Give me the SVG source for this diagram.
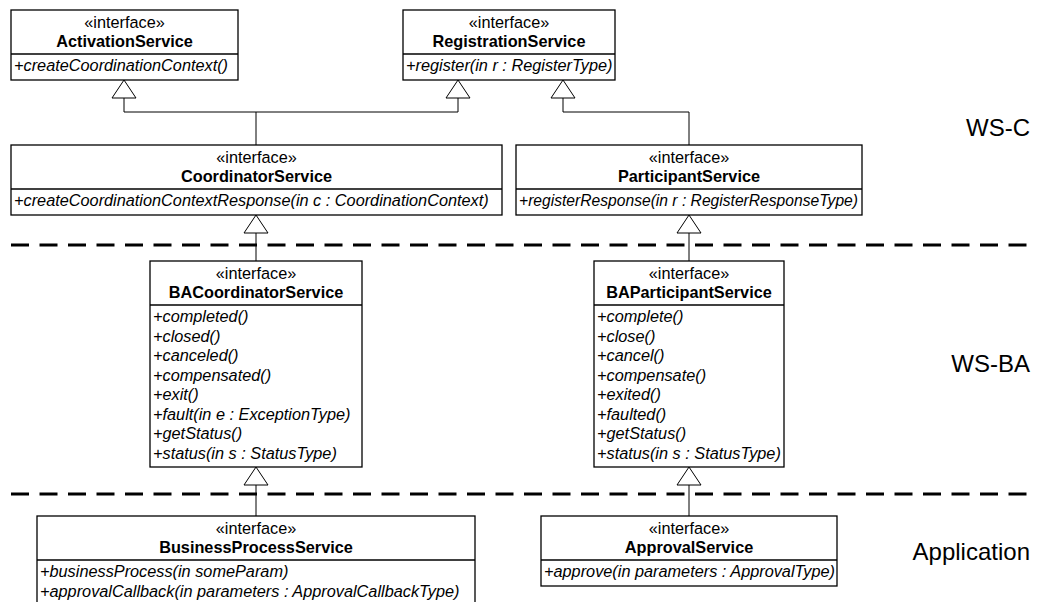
<svg xmlns="http://www.w3.org/2000/svg" width="1037" height="602" viewBox="0 0 1037 602">
  <style>
    .box { fill: #ffffff; stroke: #000000; stroke-width: 1.3; }
    .div { stroke: #000000; stroke-width: 1.3; }
    .st { font-family: "Liberation Sans", Arial, sans-serif; font-size: 16.3px; text-anchor: middle; fill: #000; }
    .nm { font-family: "Liberation Sans", Arial, sans-serif; font-size: 16.3px; font-weight: bold; text-anchor: middle; fill: #000; }
    .op { font-family: "Liberation Sans", Arial, sans-serif; font-size: 16.3px; font-style: italic; fill: #000; }
    .layer { font-family: "Liberation Sans", Arial, sans-serif; font-size: 24px; text-anchor: end; fill: #000; }
    .sep { stroke: #000000; stroke-width: 3; stroke-dasharray: 18 10.5; fill: none; }
    .edge { stroke: #000000; stroke-width: 1; fill: none; }
    .gen { fill: #ffffff; stroke: #000000; stroke-width: 1; }
  </style>

  <!-- layer separators -->
  <g id="separators">
    <line class="sep" x1="11" y1="245" x2="1030" y2="245"/>
    <line class="sep" x1="11" y1="494" x2="1030" y2="494"/>
  </g>

  <!-- layer labels -->
  <g id="labels">
    <text class="layer" x="1030" y="136">WS-C</text>
    <text class="layer" x="1030" y="372">WS-BA</text>
    <text class="layer" x="1030" y="560">Application</text>
  </g>

  <!-- generalization connectors (hollow triangles point at the parent) -->
  <g id="connectors">
    <polyline class="edge" points="124,98 124,112 458,112 458,98"/>
    <line class="edge" x1="256" y1="112" x2="256" y2="145"/>
    <polyline class="edge" points="563,98 563,112 689,112 689,145"/>
    <line class="edge" x1="256" y1="233" x2="256" y2="261"/>
    <line class="edge" x1="689" y1="233" x2="689" y2="261"/>
    <line class="edge" x1="256" y1="485" x2="256" y2="516"/>
    <line class="edge" x1="689" y1="485" x2="689" y2="516"/>
    <polygon class="gen" points="124,80 112,98 136,98"/>
    <polygon class="gen" points="458,80 446,98 470,98"/>
    <polygon class="gen" points="563,80 551,98 575,98"/>
    <polygon class="gen" points="256,215 244,233 268,233"/>
    <polygon class="gen" points="689,215 677,233 701,233"/>
    <polygon class="gen" points="256,467 244,485 268,485"/>
    <polygon class="gen" points="689,467 677,485 701,485"/>
  </g>

  <g id="ActivationService">
    <rect class="box" x="11" y="10" width="227" height="70"/>
    <line class="div" x1="11" y1="54" x2="238" y2="54"/>
    <text class="st" x="124.5" y="28">«interface»</text>
    <text class="nm" x="124.5" y="47">ActivationService</text>
    <text class="op" x="14" y="71">+createCoordinationContext()</text>
  </g>

  <g id="RegistrationService">
    <rect class="box" x="403" y="10" width="212" height="70"/>
    <line class="div" x1="403" y1="54" x2="615" y2="54"/>
    <text class="st" x="509" y="28">«interface»</text>
    <text class="nm" x="509" y="47">RegistrationService</text>
    <text class="op" x="406" y="71">+register(in r : RegisterType)</text>
  </g>

  <g id="CoordinatorService">
    <rect class="box" x="11" y="145" width="491" height="70"/>
    <line class="div" x1="11" y1="189" x2="502" y2="189"/>
    <text class="st" x="256.5" y="163">«interface»</text>
    <text class="nm" x="256.5" y="182">CoordinatorService</text>
    <text class="op" x="14" y="206">+createCoordinationContextResponse(in c : CoordinationContext)</text>
  </g>

  <g id="ParticipantService">
    <rect class="box" x="516" y="145" width="346" height="70"/>
    <line class="div" x1="516" y1="189" x2="862" y2="189"/>
    <text class="st" x="689" y="163">«interface»</text>
    <text class="nm" x="689" y="182">ParticipantService</text>
    <text class="op" x="519" y="206" textLength="339" lengthAdjust="spacingAndGlyphs">+registerResponse(in r : RegisterResponseType)</text>
  </g>

  <g id="BACoordinatorService">
    <rect class="box" x="150" y="261" width="212" height="206"/>
    <line class="div" x1="150" y1="305" x2="362" y2="305"/>
    <text class="st" x="256" y="279">«interface»</text>
    <text class="nm" x="256" y="298">BACoordinatorService</text>
    <text class="op" x="153" y="322">+completed()</text>
    <text class="op" x="153" y="341.5">+closed()</text>
    <text class="op" x="153" y="361">+canceled()</text>
    <text class="op" x="153" y="380.5">+compensated()</text>
    <text class="op" x="153" y="400">+exit()</text>
    <text class="op" x="153" y="419.5">+fault(in e : ExceptionType)</text>
    <text class="op" x="153" y="439">+getStatus()</text>
    <text class="op" x="153" y="458.5">+status(in s : StatusType)</text>
  </g>

  <g id="BAParticipantService">
    <rect class="box" x="594" y="261" width="190" height="206"/>
    <line class="div" x1="594" y1="305" x2="784" y2="305"/>
    <text class="st" x="689" y="279">«interface»</text>
    <text class="nm" x="689" y="298">BAParticipantService</text>
    <text class="op" x="597" y="322">+complete()</text>
    <text class="op" x="597" y="341.5">+close()</text>
    <text class="op" x="597" y="361">+cancel()</text>
    <text class="op" x="597" y="380.5">+compensate()</text>
    <text class="op" x="597" y="400">+exited()</text>
    <text class="op" x="597" y="419.5">+faulted()</text>
    <text class="op" x="597" y="439">+getStatus()</text>
    <text class="op" x="597" y="458.5">+status(in s : StatusType)</text>
  </g>

  <g id="BusinessProcessService">
    <rect class="box" x="37" y="516" width="438" height="92"/>
    <line class="div" x1="37" y1="560" x2="475" y2="560"/>
    <text class="st" x="256" y="534">«interface»</text>
    <text class="nm" x="256" y="553">BusinessProcessService</text>
    <text class="op" x="40" y="577">+businessProcess(in someParam)</text>
    <text class="op" x="40" y="596.5">+approvalCallback(in parameters : ApprovalCallbackType)</text>
  </g>

  <g id="ApprovalService">
    <rect class="box" x="541" y="516" width="296" height="70"/>
    <line class="div" x1="541" y1="560" x2="837" y2="560"/>
    <text class="st" x="689" y="534">«interface»</text>
    <text class="nm" x="689" y="553">ApprovalService</text>
    <text class="op" x="544" y="577">+approve(in parameters : ApprovalType)</text>
  </g>
</svg>
